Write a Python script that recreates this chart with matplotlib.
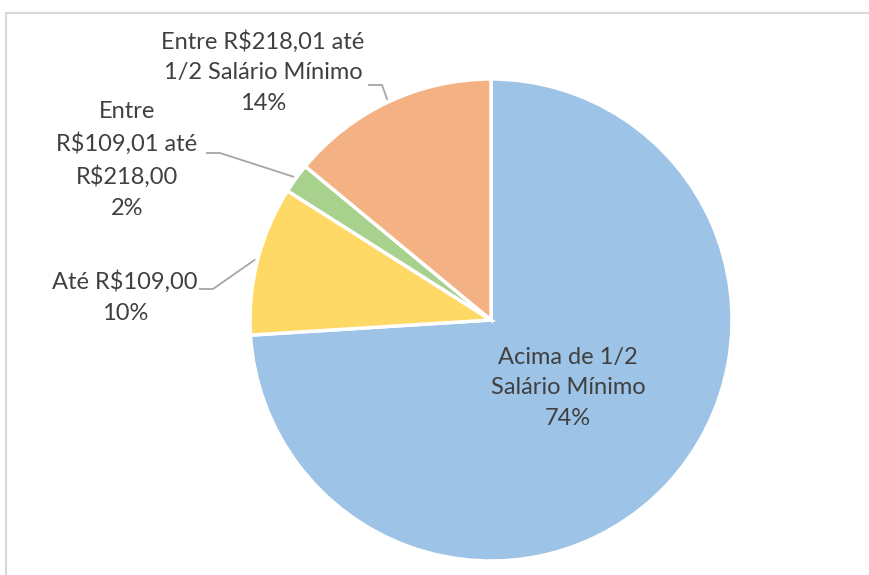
import matplotlib
matplotlib.use('Agg')
import matplotlib.pyplot as plt
from matplotlib.patches import Rectangle
import numpy as np

# dados do gráfico (sentido horário a partir do topo)
labels = ['Acima de 1/2\nSalário Mínimo', 'Até R$109,00', 'Entre\nR$109,01 até\nR$218,00',
          'Entre R$218,01 até\n1/2 Salário Mínimo']
values = [74, 10, 2, 14]
pct_labels = ['74%', '10%', '2%', '14%']
colors = ['#9DC3E6', '#FFD966', '#A9D18E', '#F4B183']

W, H = 869, 575
R = 241.0          # raio em pixels
CX, CY = 491, 320  # centro em pixels (a partir do topo)


def px(x, y):
    return (x - CX) / R, (CY - y) / R


plt.rcParams['font.family'] = ['Lato', 'DejaVu Sans']
fig = plt.figure(figsize=(W / 100, H / 100), dpi=100)
ax = fig.add_axes([0, 0, 1, 1])

wedges, _ = ax.pie(values, colors=colors, startangle=90, counterclock=False, radius=1.0,
                   wedgeprops={'edgecolor': 'white', 'linewidth': 2.5})

# pie() redefine os limites, então ajustamos depois
ax.set_xlim(-CX / R, (W - CX) / R)
ax.set_ylim(-(H - CY) / R, CY / R)
ax.set_aspect('equal')
ax.axis('off')

txt_color = '#404040'
fs = 17

# posições dos rótulos (pixels) e início das linhas de chamada
label_pos = [(568, 388), (125, 297), (127, 160), (263, 72)]
leader_start = [None, (199, 289), (206, 153), (368, 85)]

for i, w in enumerate(wedges):
    x, y = px(*label_pos[i])
    ax.text(x, y, labels[i] + '\n' + pct_labels[i], ha='center', va='center',
            fontsize=fs, color=txt_color, linespacing=1.55)
    if leader_start[i] is not None:
        mid = np.deg2rad((w.theta1 + w.theta2) / 2)
        ex, ey = 1.01 * np.cos(mid), 1.01 * np.sin(mid)
        sx, sy = px(*leader_start[i])
        bx = sx + 14 / R
        ax.plot([sx, bx, ex], [sy, sy, ey], color='#a6a6a6', lw=1.3, solid_capstyle='butt')

# moldura do gráfico
fig.add_artist(Rectangle((5.5 / W, -0.1), 1.2, 1.1 - 13.5 / H, transform=fig.transFigure,
                         fill=False, edgecolor='#d9d9d9', lw=1.5))

fig.savefig('out.png', dpi=100)
